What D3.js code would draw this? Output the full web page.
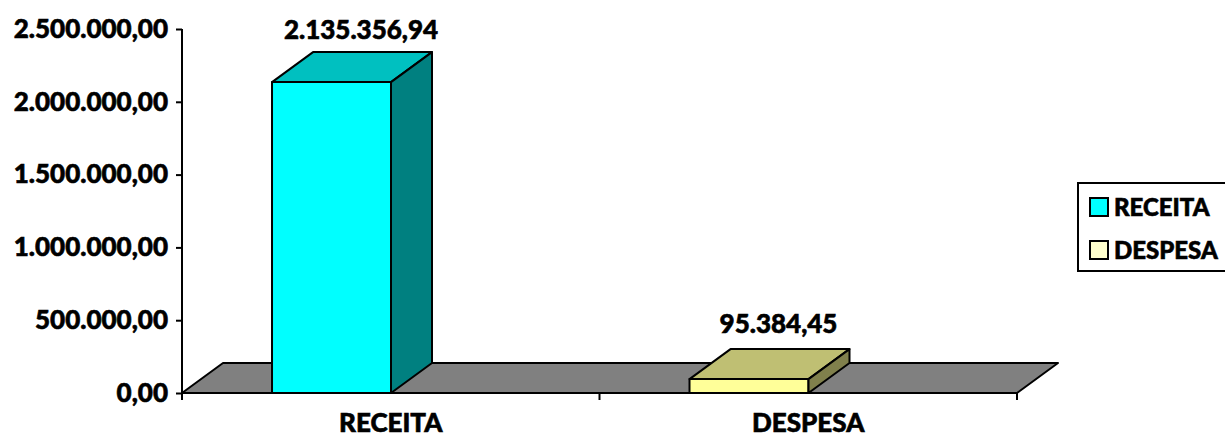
<!DOCTYPE html>
<meta charset="utf-8">
<head>
	<title>Receita x Despesa</title>
	<style>
		body { margin: 0; background: #FFFFFF; }
		text { font-family: Lato, "Open Sans", sans-serif; font-weight: 900; fill: #000; stroke: #000; stroke-width: 0.6; }
		.edge { stroke: #000; stroke-width: 2; stroke-linejoin: round; }
	</style>
	<script src="https://d3js.org/d3.v7.min.js"></script>
</head>
<body>
	<div id="chart"></div>
	<script>
		const categories = ['RECEITA', 'DESPESA'];
		const values = [2135356.94, 95384.45];
		const yTicks = [0, 500000, 1000000, 1500000, 2000000, 2500000];
		const frontColors = ['#00FFFF', '#FFFF99'];
		const topColors = ['#00C0C0', '#BFBF73'];
		const sideColors = ['#008080', '#80804C'];
		const legendColors = ['#00FFFF', '#FFFFCC'];

		const W = 1225, H = 437;
		const DX = 41, DY = 30; // depth of the 3D projection
		const FS = '26px';

		const locale = d3.formatLocale({decimal: ',', thousands: '.', grouping: [3], currency: ['', '']});
		const fmt = locale.format(',.2f');

		const svg = d3.select('#chart').append('svg')
			.attr('width', W).attr('height', H).style('display', 'block');

		const x = d3.scaleBand().domain(categories).range([182, 1017]);
		const y = d3.scaleLinear().domain([0, 2500000]).range([393, 29]);

		// floor
		const y0 = y(0);
		svg.append('polygon').attr('class', 'edge').attr('fill', '#808080')
			.attr('points', [[182, y0], [182 + DX, y0 - DY], [1017 + DX, y0 - DY], [1017, y0]].join(' '));

		// y axis
		const yAxis = d3.axisLeft(y).tickValues(yTicks).tickFormat(fmt).tickSize(6).tickPadding(8);
		const gy = svg.append('g').attr('transform', 'translate(182,0)').call(yAxis);
		gy.select('.domain').attr('stroke', '#000').attr('stroke-width', 2).attr('d', `M0,${y(2500000)}V${y0}`);
		gy.selectAll('.tick line').attr('stroke', '#000').attr('stroke-width', 2);
		gy.selectAll('.tick text').style('font-size', FS).style('font-family', 'Lato, sans-serif').style('font-weight', '900')
			.attr('fill', '#000').attr('stroke', '#000').attr('stroke-width', 0.6);

		// x axis
		const gx = svg.append('g').attr('transform', `translate(0,${y0})`);
		gx.append('path').attr('stroke', '#000').attr('stroke-width', 2).attr('fill', 'none')
			.attr('d', `M182,0H1017`);
		const bounds = [182, x(categories[1]), 1017];
		gx.selectAll('line.tk').data(bounds).join('line').attr('class', 'tk')
			.attr('x1', d => d).attr('x2', d => d).attr('y1', 0).attr('y2', 7)
			.attr('stroke', '#000').attr('stroke-width', 2);
		gx.selectAll('text').data(categories).join('text')
			.attr('x', d => x(d) + x.bandwidth() / 2).attr('y', 39)
			.attr('text-anchor', 'middle').style('font-size', FS)
			.text(d => d);

		// bars
		const bw = x.bandwidth() * 0.285;
		const off = x.bandwidth() * 0.2156;
		const bars = svg.selectAll('g.bar').data(categories).join('g').attr('class', 'bar');
		bars.each(function(c, i) {
			const g = d3.select(this);
			const l = x(c) + off, r = l + bw, t = y(values[i]), b = y0;
			g.append('polygon').attr('class', 'edge').attr('fill', frontColors[i])
				.attr('points', [[l, b], [l, t], [r, t], [r, b]].join(' '));
			g.append('polygon').attr('class', 'edge').attr('fill', topColors[i])
				.attr('points', [[l, t], [l + DX, t - DY], [r + DX, t - DY], [r, t]].join(' '));
			g.append('polygon').attr('class', 'edge').attr('fill', sideColors[i])
				.attr('points', [[r, b], [r, t], [r + DX, t - DY], [r + DX, b - DY]].join(' '));
			g.append('text')
				.attr('x', (l + r + DX) / 2 + 9).attr('y', t - DY - (i === 0 ? 13 : 16))
				.attr('text-anchor', 'middle').style('font-size', FS)
				.text(fmt(values[i]));
		});

		// legend
		const lg = svg.append('g');
		lg.append('rect').attr('x', 1078).attr('y', 183).attr('width', 160).attr('height', 88)
			.attr('fill', '#FFF').attr('stroke', '#000').attr('stroke-width', 2);
		categories.forEach((c, i) => {
			const yy = 198 + i * 43;
			lg.append('rect').attr('x', 1090).attr('y', yy).attr('width', 18).attr('height', 18)
				.attr('fill', legendColors[i]).attr('stroke', '#000').attr('stroke-width', 2);
			lg.append('text').attr('x', 1114).attr('y', yy + 18).style('font-size', '24px').text(c);
		});
	</script>
</body>
